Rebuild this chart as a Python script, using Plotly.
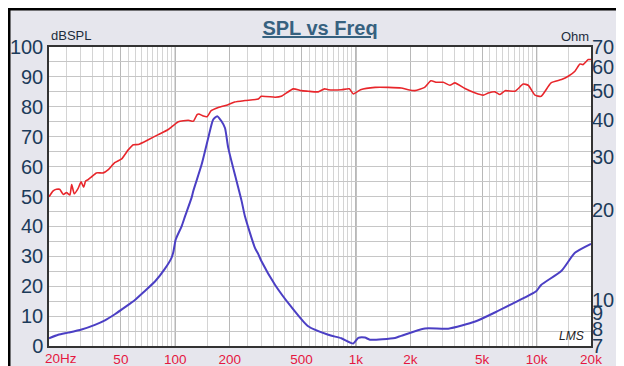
import numpy as np
import plotly.graph_objects as go

# ---- data ----
spl_freq = [20, 21.1, 22.0, 22.9, 24.0, 25.0, 26.1, 26.7, 27.6, 29.0, 30.1, 31.1, 31.9, 33.0,
            34.3, 36.6, 39.9, 42.6, 46.2, 50.5, 54.9, 58.6, 62.4, 70.9, 80.5, 91.5, 104, 118,
            126, 132, 135, 143, 150, 158, 173, 196, 213, 243, 288, 299, 357, 386, 450, 498,
            544, 593, 618, 670, 703, 830, 918, 968, 1060, 1276, 1508, 1780, 1946, 2120, 2400,
            2600, 2792, 3041, 3312, 3530, 4012, 4580, 5060, 5400, 5876, 6266, 6690, 7600, 8434,
            8988, 9800, 10590, 12020, 13740, 14960, 16290, 17370, 18050, 19320, 20000]
spl_db = [49.9, 51.9, 52.4, 52.4, 50.7, 51.3, 50.5, 54.0, 50.9, 52.7, 54.9, 53.1, 55.2, 55.7,
          56.5, 57.9, 57.9, 59.0, 61.3, 62.6, 65.6, 67.3, 67.4, 69.0, 70.7, 72.4, 75.0, 75.5,
          75.2, 77.4, 77.6, 76.9, 76.7, 78.7, 79.8, 80.7, 81.6, 82.1, 82.6, 83.5, 83.2, 83.5,
          86.0, 85.4, 85.2, 85.0, 85.0, 86.0, 85.7, 85.7, 86.0, 84.3, 85.7, 86.5, 86.5, 86.3,
          85.7, 85.4, 86.5, 88.7, 88.2, 88.2, 87.2, 88.0, 86.1, 84.6, 83.9, 84.6, 85.0, 84.1,
          85.4, 85.2, 87.6, 87.2, 83.9, 83.5, 88.0, 89.1, 90.2, 91.9, 94.3, 94.1, 95.8, 95.8]

imp_freq = [20, 22.5, 25.6, 30.3, 35.9, 40.8, 46.3, 52.7, 59.8, 67.9, 77.2, 87.7, 95.3, 97.5,
            100.6, 108.4, 113.2, 123, 125.8, 139.9, 152.3, 162, 170.6, 180.3, 188.4, 196.4,
            218.5, 232.8, 243, 276, 288, 299, 357, 440, 544, 703, 830, 966, 1030, 1122, 1194,
            1645, 1780, 2410, 3242, 4572, 5876, 7596, 9980, 10590, 13740, 16290, 20000]
imp_ohm = [7.43, 7.63, 7.76, 7.95, 8.24, 8.53, 8.94, 9.44, 9.98, 10.7, 11.5, 12.7, 13.8, 14.4,
           15.9, 17.6, 19.0, 21.9, 23.1, 28.3, 34.8, 40.0, 41.1, 39.5, 37.5, 32.2,
           24.9, 21.4, 19.0, 14.9, 14.2, 13.5, 11.2, 9.44, 8.15, 7.63, 7.43, 7.14, 7.45, 7.47, 7.35,
           7.45, 7.57, 8.01, 8.0, 8.45, 9.06, 9.8, 10.7, 11.2, 12.5, 14.35, 15.38]

x_tick_vals = [20, 50, 100, 200, 500, 1000, 2000, 5000, 10000, 20000]
x_tick_text = ["", "50", "100", "200", "500", "1k", "2k", "5k", "10k", "20k"]
spl_tick_vals = list(range(0, 101, 5))
spl_tick_text = [str(v) if v % 10 == 0 else "" for v in spl_tick_vals]
ohm_tick_vals = [7, 8, 9, 10, 20, 30, 40, 50, 60, 70]
ohm_tick_text = [str(v) for v in ohm_tick_vals]

grid_mult = [1 + 0.5 * i for i in range(18)]
minor_vals = [d * m for d in (10, 100, 1000, 10000) for m in grid_mult
              if 20 <= d * m <= 20000 and d * m not in x_tick_vals]
decades = [100, 1000, 10000]

fig = go.Figure()
fig.add_trace(go.Scatter(x=spl_freq, y=spl_db, mode="lines",
                         line=dict(color="#e8262b", width=1.6, shape="spline", smoothing=0.5),
                         showlegend=False, hoverinfo="skip"))
fig.add_trace(go.Scatter(x=imp_freq, y=imp_ohm, mode="lines", yaxis="y2",
                         line=dict(color="#4b3fc4", width=2, shape="spline", smoothing=0.6),
                         showlegend=False, hoverinfo="skip"))

for d in decades:
    fig.add_shape(type="line", xref="x", yref="paper", x0=d, x1=d, y0=0, y1=1,
                  line=dict(color="#8f8f8f", width=1.2), layer="between")

W, H = 624, 366
ml, mr, mt, mb = 41, 41, 39, 28
pw, ph = W - ml - mr, H - mt - mb
fig.add_shape(type="rect", xref="paper", yref="paper",
              x0=-ml / pw, x1=1 + mr / pw, y0=-mb / ph, y1=1 + mt / ph,
              line=dict(color="#000000", width=5), fillcolor="rgba(0,0,0,0)", layer="above")

fig.update_layout(
    width=W, height=H,
    margin=dict(l=ml, r=mr, t=mt, b=mb, autoexpand=False),
    paper_bgcolor="#e6e6ed", plot_bgcolor="#ffffff",
    font=dict(family="Arial, Liberation Sans, sans-serif"),
    title=dict(text="SPL vs Freq", x=0.5, xref="container", xanchor="center",
               y=1 - 20 / H, yref="container", yanchor="middle",
               font=dict(size=20, color="#36617f", weight="bold", lineposition="under")),
    xaxis=dict(type="log", range=[np.log10(20), np.log10(20000)],
               tickvals=x_tick_vals, ticktext=x_tick_text, ticks="",
               tickfont=dict(size=13.5, color="#e5173f"),
               showgrid=True, gridcolor="#b8b8b8", gridwidth=1,
               minor=dict(tickvals=minor_vals, showgrid=True, gridcolor="#d4d4d4", ticks=""),
               showline=True, linecolor="#333333", linewidth=1.5, mirror=True,
               zeroline=False),
    yaxis=dict(range=[0, 100], tickvals=spl_tick_vals, ticktext=spl_tick_text, ticks="",
               tickfont=dict(size=20, color="#1c3b5a"),
               showgrid=True, gridcolor="#c6c6c6", gridwidth=1,
               showline=True, linecolor="#333333", linewidth=1.5, mirror=True,
               zeroline=False),
    yaxis2=dict(overlaying="y", side="right", type="log",
                range=[np.log10(7), np.log10(70)],
                tickvals=ohm_tick_vals, ticktext=ohm_tick_text, ticks="",
                tickfont=dict(size=20, color="#1c3b5a"),
                showgrid=False, showline=False, zeroline=False),
    annotations=[
        dict(text="dBSPL", xref="paper", yref="paper", x=0, y=1, xanchor="left",
             yanchor="bottom", showarrow=False, font=dict(size=13, color="#1c2c3c"), yshift=2),
        dict(text="Ohm", xref="paper", yref="paper", x=1, y=1, xanchor="right",
             yanchor="bottom", showarrow=False, font=dict(size=13, color="#1c2c3c"), yshift=1),
        dict(text="20Hz", xref="x", yref="paper", x=np.log10(20), y=0, xanchor="left",
             yanchor="top", showarrow=False, font=dict(size=13.5, color="#e5173f"),
             xshift=-6, yshift=-3),
        dict(text="<i>LMS</i>", xref="x", yref="y", x=np.log10(15500), y=3.5,
             showarrow=False, font=dict(size=12, color="#222222")),
    ],
)

fig.write_html("out.html")
